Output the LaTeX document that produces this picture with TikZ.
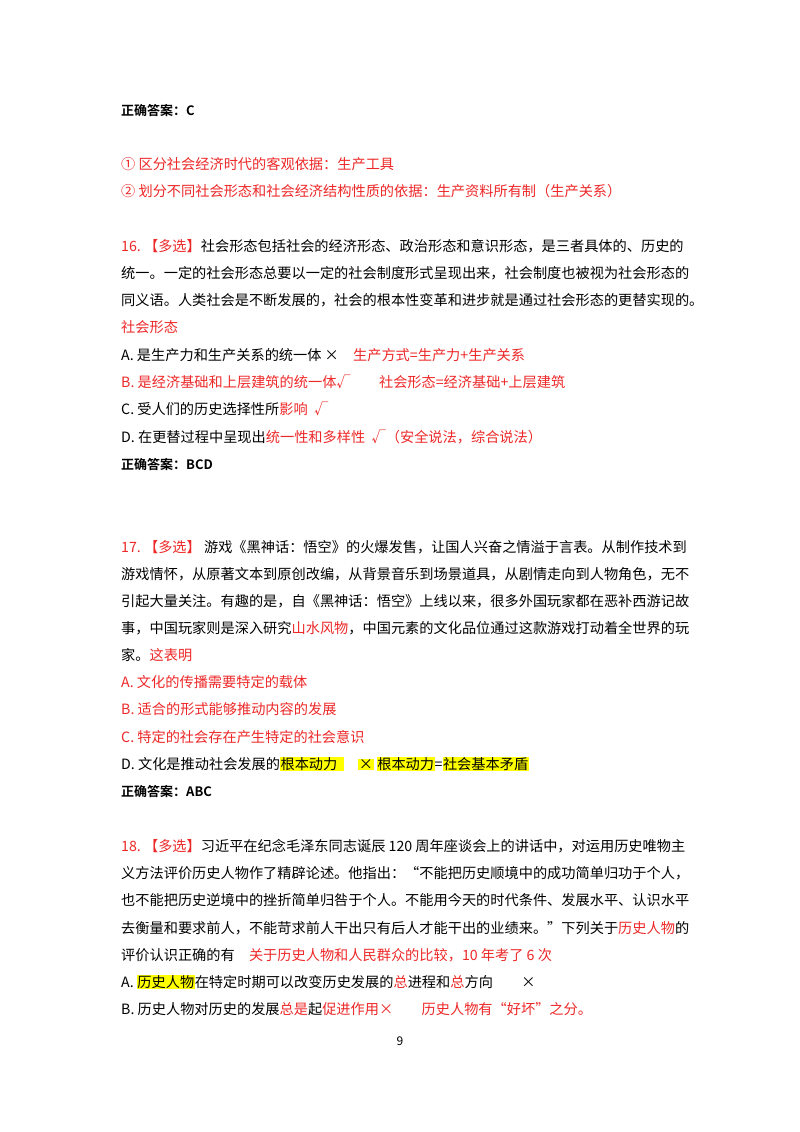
\documentclass[tikz,border=0pt]{standalone}
\usepackage{fontspec}
\setmainfont{Noto Sans CJK SC}[BoldFont={Noto Sans CJK SC Bold}]
\usepackage{xcolor}
\definecolor{rd}{RGB}{238,40,40}
\definecolor{hl}{RGB}{255,255,0}
\newcommand{\R}[1]{\textcolor{rd}{#1}}
\newcommand{\HL}[1]{{\setlength{\fboxsep}{0.5pt}\colorbox{hl}{#1}}}
\tikzset{ln/.style={anchor=base west,inner sep=0pt,font=\fontsize{14.2}{16}\selectfont},
 ans/.style={anchor=base west,inner sep=0pt,font=\fontsize{13}{15}\selectfont\bfseries}}
\begin{document}
\begin{tikzpicture}[x=1pt,y=-1pt]
\useasboundingbox[fill=white] (0,0) rectangle (800,1132);
\node[ans] (a1) at (121,115) {正确答案：C};
\node[ln] (b1) at (121,169) {\R{①\ 区分社会经济时代的客观依据：生产工具}};
\node[ln] (b2) at (121,196) {\R{②\ 划分不同社会形态和社会经济结构性质的依据：生产资料所有制（生产关系）}};
\node[ln] (c1) at (121,251) {\R{16.\ 【多选】}社会形态包括社会的经济形态、政治形态和意识形态，是三者具体的、历史的};
\node[ln] (c2) at (121,278) {统一。一定的社会形态总要以一定的社会制度形式呈现出来，社会制度也被视为社会形态的};
\node[ln] (c3) at (121,305) {同义语。人类社会是不断发展的，社会的根本性变革和进步就是通过社会形态的更替实现的。};
\node[ln] (c4) at (121,332) {\R{社会形态}};
\node[ln] (c5) at (121,360) {A.\ 是生产力和生产关系的统一体\ ×\quad\R{生产方式=生产力+生产关系}};
\node[ln] (c6) at (121,387) {\R{B.\ 是经济基础和上层建筑的统一体√\qquad 社会形态=经济基础+上层建筑}};
\node[ln] (c7) at (121,414) {C.\ 受人们的历史选择性所\R{影响\ \ √}};
\node[ln] (c8) at (121,442) {D.\ 在更替过程中呈现出\R{统一性和多样性\ \ √（安全说法，综合说法）}};
\node[ans] (a2) at (121,469) {正确答案：BCD};
\node[ln] (d1) at (121,552) {\R{17.\ 【多选】}\ 游戏《黑神话：悟空》的火爆发售，让国人兴奋之情溢于言表。从制作技术到};
\node[ln] (d2) at (121,579) {游戏情怀，从原著文本到原创改编，从背景音乐到场景道具，从剧情走向到人物角色，无不};
\node[ln] (d3) at (121,606) {引起大量关注。有趣的是，自《黑神话：悟空》上线以来，很多外国玩家都在恶补西游记故};
\node[ln] (d4) at (121,633) {事，中国玩家则是深入研究\R{山水风物}，中国元素的文化品位通过这款游戏打动着全世界的玩};
\node[ln] (d5) at (121,660) {家。\R{这表明}};
\node[ln] (d6) at (121,687) {\R{A.\ 文化的传播需要特定的载体}};
\node[ln] (d7) at (121,714) {\R{B.\ 适合的形式能够推动内容的发展}};
\node[ln] (d8) at (121,742) {\R{C.\ 特定的社会存在产生特定的社会意识}};
\node[ln] (d9) at (121,769) {D.\ 文化是推动社会发展的\HL{根本动力\ \ }\quad\HL{×}\ \HL{根本动力}=\HL{社会基本矛盾}};
\node[ans] (a3) at (121,796) {正确答案：ABC};
\node[ln] (e1) at (121,851) {\R{18.\ 【多选】}习近平在纪念毛泽东同志诞辰 120 周年座谈会上的讲话中，对运用历史唯物主};
\node[ln] (e2) at (121,878) {义方法评价历史人物作了精辟论述。他指出：“不能把历史顺境中的成功简单归功于个人，};
\node[ln] (e3) at (121,905) {也不能把历史逆境中的挫折简单归咎于个人。不能用今天的时代条件、发展水平、认识水平};
\node[ln] (e4) at (121,933) {去衡量和要求前人，不能苛求前人干出只有后人才能干出的业绩来。”下列关于\R{历史人物}的};
\node[ln] (e5) at (121,960) {评价认识正确的有\quad\R{关于历史人物和人民群众的比较，10 年考了 6 次}};
\node[ln] (e6) at (121,987) {A.\ \HL{历史人物}在特定时期可以改变历史发展的\R{总}进程和\R{总}方向\qquad ×};
\node[ln] (e7) at (121,1014) {B.\ 历史人物对历史的发展\R{总是}起\R{促进作用×}\qquad\R{历史人物有“好坏”之分。}};
\node[anchor=base,inner sep=0pt,font=\fontsize{12}{14}\selectfont] (pg) at (400,1045) {9};
\end{tikzpicture}
\end{document}
